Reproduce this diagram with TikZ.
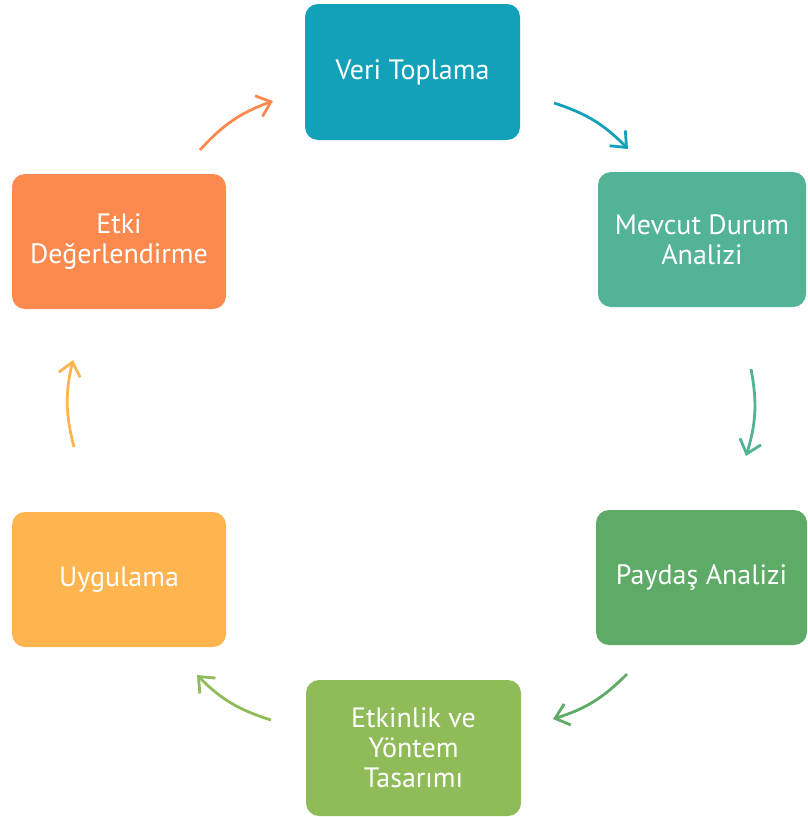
\documentclass[tikz,border=0pt]{standalone}
\usepackage{fontspec}
\setmainfont{PT Sans}
\usetikzlibrary{arrows.meta}
\definecolor{cveri}{HTML}{12A1B8}
\definecolor{cmevcut}{HTML}{52B396}
\definecolor{cpaydas}{HTML}{5DAB66}
\definecolor{cetkinlik}{HTML}{8FBB59}
\definecolor{cuygulama}{HTML}{FFB54F}
\definecolor{cetki}{HTML}{FC8A4E}
\begin{document}
\begin{tikzpicture}[x=1pt,y=1pt,
   stage/.style={fill=#1,rounded corners=13pt,text=white,align=center,
      inner sep=0pt,font=\fontsize{28}{30}\selectfont},
   flow/.style={draw=#1,line width=2.8pt,bend left=14,
      -{Straight Barb[length=13pt,width=22pt]}}]
   \useasboundingbox (0,0) rectangle (807,-817);
   % stages
   \node[stage=cveri,minimum width=215pt,minimum height=136pt]      (veri)      at (412.5,-72.0)  {Veri Toplama};
   \node[stage=cmevcut,minimum width=208pt,minimum height=135pt]    (mevcut)    at (702.0,-239.5) {Mevcut Durum\\Analizi};
   \node[stage=cpaydas,minimum width=211pt,minimum height=135pt]    (paydas)    at (701.5,-577.5) {Payda\c{s} Analizi};
   \node[stage=cetkinlik,minimum width=215pt,minimum height=136pt]  (etkinlik)  at (413.5,-748.0) {Etkinlik ve\\Y\"ontem\\Tasar\i m\i};
   \node[stage=cuygulama,minimum width=214pt,minimum height=135pt]  (uygulama)  at (119.0,-579.5) {Uygulama};
   \node[stage=cetki,minimum width=214pt,minimum height=135pt]      (etki)      at (119.0,-241.5) {Etki\\De\u{g}erlendirme};
   % arrow ends
   \coordinate (a1s) at (200,-150);  \coordinate (a1e) at (273,-101);
   \coordinate (a2s) at (554,-103);  \coordinate (a2e) at (628,-149);
   \coordinate (a3s) at (751,-369);  \coordinate (a3e) at (746,-456);
   \coordinate (a4s) at (627,-674);  \coordinate (a4e) at (553,-719);
   \coordinate (a5s) at (271,-720);  \coordinate (a5e) at (197,-675);
   \coordinate (a6s) at ( 74,-447);  \coordinate (a6e) at ( 73,-360);
   % cycle arrows
   \draw[flow=cetki]     (a1s) to (a1e);
   \draw[flow=cveri]     (a2s) to (a2e);
   \draw[flow=cmevcut]   (a3s) to (a3e);
   \draw[flow=cpaydas]   (a4s) to (a4e);
   \draw[flow=cetkinlik] (a5s) to (a5e);
   \draw[flow=cuygulama] (a6s) to (a6e);
\end{tikzpicture}
\end{document}
